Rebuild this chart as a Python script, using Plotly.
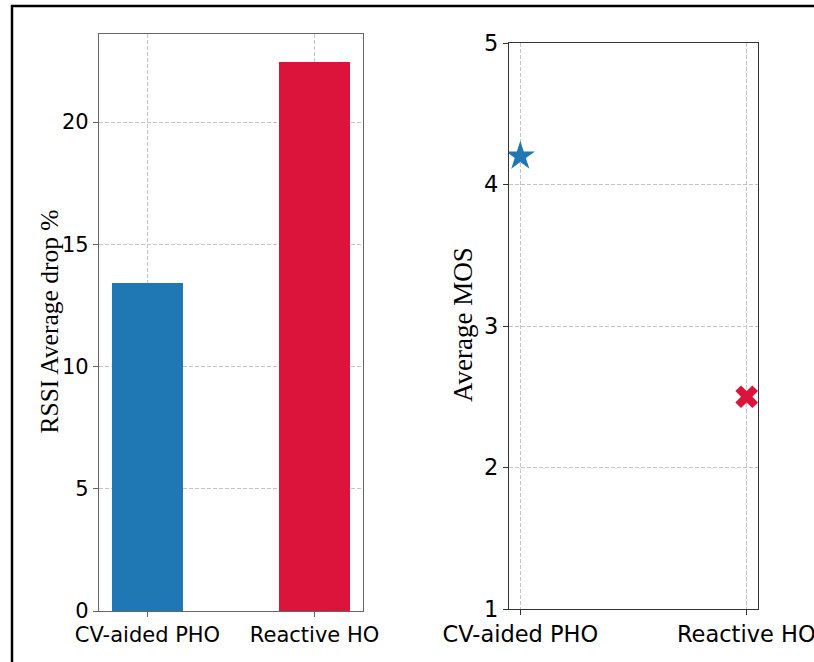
import plotly.graph_objects as go

categories = ["CV-aided PHO", "Reactive HO"]
rssi_drop = [13.4, 22.45]
mos = [4.2, 2.5]
bar_colors = ["#1f77b4", "#DC143C"]
left_ticks = [0, 5, 10, 15, 20]
right_ticks = [1, 2, 3, 4, 5]

W, H = 814, 662
fig = go.Figure()

fig.add_trace(go.Bar(x=[0, 1], y=rssi_drop, width=0.43, marker=dict(color=bar_colors, line=dict(width=0)),
                     xaxis="x", yaxis="y", showlegend=False))
fig.add_trace(go.Scatter(x=[0], y=[mos[0]], mode="markers", marker=dict(symbol="star", size=22, color="#1f77b4", line=dict(width=0)),
                         xaxis="x2", yaxis="y2", showlegend=False))
fig.add_trace(go.Scatter(x=[1], y=[mos[1]], mode="markers", marker=dict(symbol="x", size=20, color="#DC143C", line=dict(width=0)),
                         xaxis="x2", yaxis="y2", showlegend=False))

tickfont_l = dict(family="DejaVu Sans", size=21, color="black")
tickfont_r = dict(family="DejaVu Sans", size=22.5, color="black")
common = dict(showline=True, mirror=True, linewidth=1.2, ticks="outside", ticklen=5, tickwidth=1,
              showgrid=True, gridcolor="#c4c4c4", griddash="4px,2px", gridwidth=1, zeroline=False,
              automargin=False)

fig.update_layout(
    width=W, height=H, margin=dict(l=0, r=0, t=0, b=0, autoexpand=False),
    paper_bgcolor="white", plot_bgcolor="white",
    xaxis=dict(domain=[99/W, 363/W], range=[-0.29, 1.29], tickvals=[0, 1], ticktext=categories,
               tickfont=tickfont_l, linecolor="#666", tickcolor="#666", anchor="y", **common),
    yaxis=dict(domain=[1-611/H, 1-34/H], range=[0, 23.6], tickvals=left_ticks,
               tickfont=tickfont_l, linecolor="#666", tickcolor="#666", anchor="x", **common),
    xaxis2=dict(domain=[509/W, 758/W], range=[-0.05, 1.05], tickvals=[0, 1], ticktext=[categories[0], ""],
                tickfont=tickfont_r, linecolor="#333", tickcolor="#333", anchor="y2", **common),
    yaxis2=dict(domain=[1-609/H, 1-43/H], range=[1, 5], tickvals=right_ticks,
                tickfont=tickfont_r, linecolor="#333", tickcolor="#333", anchor="x2", **common),
    bargap=0,
)

# Right-hand category label that runs off the page edge, as in the reference
fig.add_annotation(text=categories[1], x=1, xref="x2", y=1-634/H, yref="paper",
                   xanchor="center", yanchor="middle", showarrow=False, font=tickfont_r)

fig.add_annotation(text="RSSI Average drop %", textangle=-90, x=48.5/W, y=1-322/H, xref="paper", yref="paper",
                   xanchor="center", yanchor="middle",
                   showarrow=False, font=dict(family="Liberation Serif", size=25.5, color="black"))
fig.add_annotation(text="Average MOS", textangle=-90, x=463/W, y=1-325/H, xref="paper", yref="paper",
                   xanchor="center", yanchor="middle",
                   showarrow=False, font=dict(family="Liberation Serif", size=27, color="black"))

fig.add_shape(type="rect", xref="paper", yref="paper", x0=12/W, x1=1.05, y0=-0.05, y1=1-6/H,
              line=dict(color="black", width=2.5), fillcolor="rgba(0,0,0,0)", layer="above")

fig.write_html("out.html")
